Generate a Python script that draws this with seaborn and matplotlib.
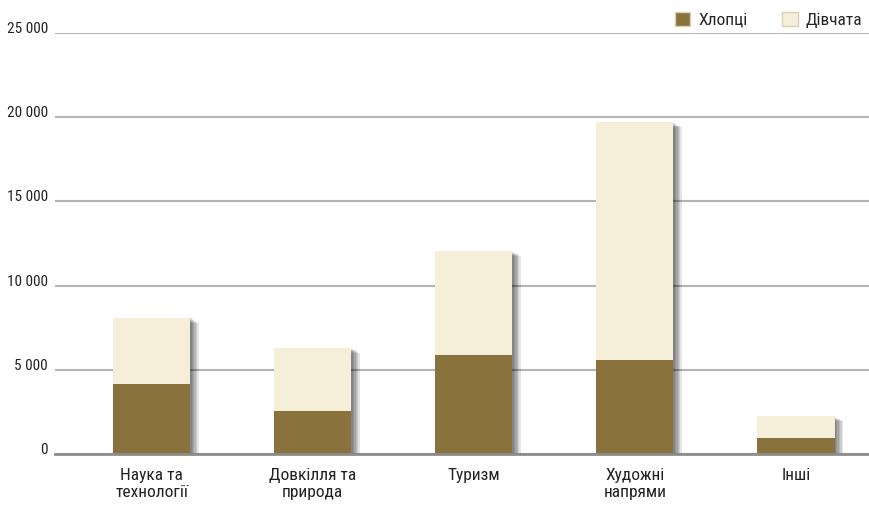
import pandas as pd
import seaborn as sns
import matplotlib.pyplot as plt
import matplotlib.patheffects as pe
from matplotlib.patches import Patch

categories = ['Наука та\nтехнології', 'Довкілля та\nприрода', 'Туризм', 'Художні\nнапрями', 'Інші']
boys = [4150, 2550, 5900, 5600, 950]
girls = [3950, 3750, 6150, 14100, 1300]
yticks = [0, 5000, 10000, 15000, 20000, 25000]

boys_color = '#8a723d'
girls_color = '#f5eed8'

sns.set_style('white')
plt.rcParams['font.family'] = ['Roboto Condensed', 'Roboto', 'DejaVu Sans']

df = pd.DataFrame({'category': categories, 'boys': boys, 'girls': girls})
df['total'] = df['boys'] + df['girls']

fig = plt.figure(figsize=(8.7, 5.08), dpi=100)
ax = fig.add_axes([0.0632, 0.1063, 0.9368, 0.8287])

# full bar (girls on top) with a soft drop shadow
sns.barplot(data=df, x='category', y='total', color=girls_color, saturation=1,
            width=0.48, linewidth=0, ax=ax)
shadow = [pe.SimplePatchShadow(offset=(d, -d * 0.6), shadow_rgbFace='black', alpha=0.1)
          for d in (1, 2, 3, 4, 5, 6)]
for p in ax.patches:
    p.set_path_effects(shadow + [pe.Normal()])

sns.barplot(data=df, x='category', y='boys', color=boys_color, saturation=1,
            width=0.48, linewidth=0, ax=ax)

ax.set_ylim(0, 25000)
ax.set_xlim(-0.6, 4.46)
ax.set_yticks(yticks)
ax.set_yticklabels([f'{v:,}'.replace(',', ' ') for v in yticks])
ax.set_xlabel('')
ax.set_ylabel('')
ax.grid(axis='y', color='#b4b4b4', linewidth=1.5)
ax.set_axisbelow(True)
for s in ['top', 'right', 'left']:
    ax.spines[s].set_visible(False)
ax.spines['bottom'].set_color('#8c8c8c')
ax.spines['bottom'].set_linewidth(2)
ax.tick_params(axis='y', length=0, pad=5, labelsize=11, labelcolor='#222222')
ax.tick_params(axis='x', length=0, pad=10, labelsize=12.5, labelcolor='#222222')
for lbl in ax.get_yticklabels():
    lbl.set_va('baseline')

handles = [Patch(facecolor=boys_color, edgecolor='#d8d0b8', label='Хлопці'),
           Patch(facecolor=girls_color, edgecolor='#d8d0b8', label='Дівчата')]
fig.legend(handles=handles, loc='upper right', bbox_to_anchor=(1.009, 1.008), ncol=2,
           frameon=False, fontsize=12.5, handlelength=0.9, handleheight=0.9,
           handletextpad=0.45, columnspacing=2.0)

fig.savefig('out.png', dpi=100)
